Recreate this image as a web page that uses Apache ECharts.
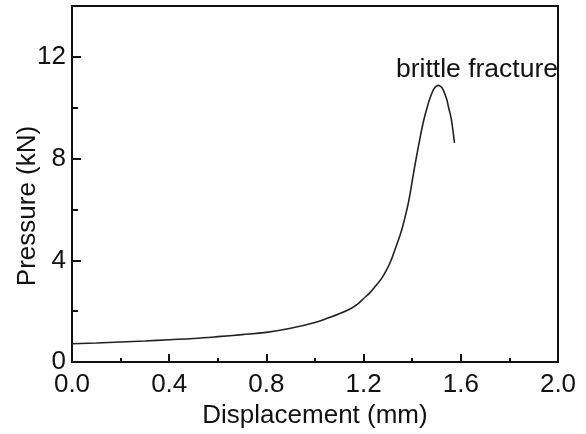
<!DOCTYPE html>
<html>
<head>
<meta charset="utf-8">
<script src="https://cdn.jsdelivr.net/npm/echarts@6/dist/echarts.min.js"></script>
<style>
  html, body { margin: 0; padding: 0; background: #fff; }
  #chart { width: 586px; height: 434px; }
</style>
</head>
<body>
<div id="chart"></div>
<script>
// displacement (mm) vs pressure (kN)
const displacement = [0, 0.1, 0.2, 0.3, 0.4, 0.5, 0.6, 0.7, 0.8, 0.9, 1.0, 1.05, 1.1, 1.15, 1.175, 1.2, 1.225, 1.25, 1.275, 1.3, 1.315, 1.33, 1.345, 1.36, 1.385, 1.405, 1.426, 1.446, 1.467, 1.48, 1.49, 1.5, 1.508, 1.515, 1.525, 1.542, 1.55, 1.56, 1.567, 1.574];
const pressure = [0.72, 0.75, 0.79, 0.83, 0.88, 0.93, 1.0, 1.08, 1.17, 1.33, 1.56, 1.72, 1.9, 2.12, 2.28, 2.5, 2.72, 3.0, 3.3, 3.72, 4.05, 4.45, 4.85, 5.3, 6.3, 7.4, 8.5, 9.45, 10.2, 10.55, 10.75, 10.85, 10.88, 10.85, 10.75, 10.33, 10.0, 9.6, 9.15, 8.62];
const xTicks = [0, 0.4, 0.8, 1.2, 1.6, 2.0];
const yTicks = [0, 4, 8, 12];

const font = "'Liberation Sans', Arial, sans-serif";
const chart = echarts.init(document.getElementById("chart"), null, { renderer: "canvas" });

const option = {
  animation: false,
  grid: {
    left: 72, right: 28, top: 6, bottom: 69,
    show: true, borderColor: "#111", borderWidth: 2, backgroundColor: "transparent",
  },
  xAxis: {
    type: "value", min: 0, max: 2.0, interval: 0.4,
    name: "Displacement (mm)", nameLocation: "middle", nameGap: 40,
    nameTextStyle: { fontFamily: font, fontSize: 26, color: "#111" },
    axisLine: { show: true, onZero: false, lineStyle: { color: "#111", width: 2 } },
    axisTick: { inside: true, length: 8, lineStyle: { color: "#111", width: 2 } },
    minorTick: { show: true, splitNumber: 2, length: 4, lineStyle: { color: "#111", width: 2 } },
    splitLine: { show: false },
    axisLabel: {
      fontFamily: font, fontSize: 26, color: "#111", margin: 10,
      formatter: (v) => xTicks.includes(+v.toFixed(1)) ? v.toFixed(1) : "",
    },
  },
  yAxis: {
    type: "value", min: 0, max: 14, interval: 4,
    axisLine: { show: true, onZero: false, lineStyle: { color: "#111", width: 2 } },
    axisTick: { inside: true, length: 9, lineStyle: { color: "#111", width: 2 } },
    minorTick: { show: true, splitNumber: 2, length: 6, lineStyle: { color: "#111", width: 2 } },
    splitLine: { show: false },
    axisLabel: {
      fontFamily: font, fontSize: 26, color: "#111", margin: 6,
      formatter: (v) => yTicks.includes(v) ? String(v) : "",
    },
  },
  graphic: [
    {
      type: "text", x: 28, y: 206, rotation: Math.PI / 2,
      style: { text: "Pressure (kN)", font: "26px " + font, fill: "#111", align: "center", verticalAlign: "middle" },
    },
    {
      type: "text", x: 396, y: 70,
      style: { text: "brittle fracture", font: "26.5px " + font, fill: "#111", align: "left", verticalAlign: "middle" },
    },
  ],
  series: [
    {
      type: "line",
      data: displacement.map((x, i) => [x, pressure[i]]),
      smooth: 0.4,
      symbol: "none",
      lineStyle: { color: "#222", width: 1.6 },
    },
  ],
};

chart.setOption(option);
</script>
</body>
</html>
